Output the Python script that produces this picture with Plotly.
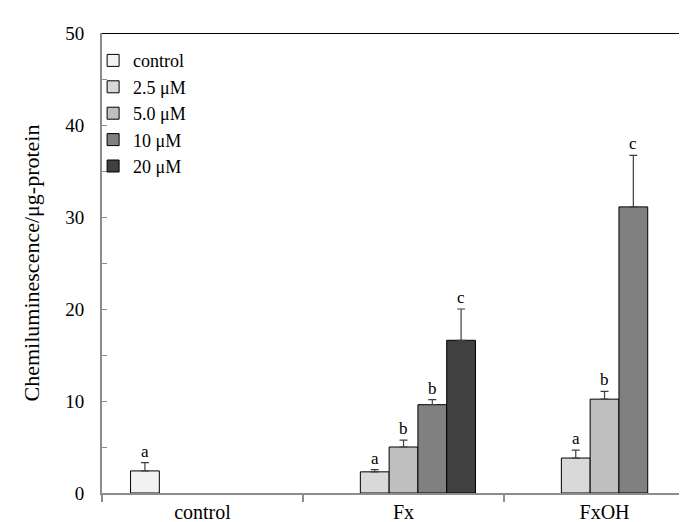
import plotly.graph_objects as go

categories = ["control", "Fx", "FxOH"]
series_names = ["control", "2.5 μM", "5.0 μM", "10 μM", "20 μM"]
series_colors = ["#F2F2F2", "#D9D9D9", "#BFBFBF", "#808080", "#404040"]

# values per series across categories (None = no bar)
val_control = [2.4, None, None]
val_2_5 = [None, 2.3, 3.8]
val_5_0 = [None, 5.0, 10.2]
val_10 = [None, 9.6, 31.1]
val_20 = [None, 16.6, None]

err_control = [0.9, 0, 0]
err_2_5 = [0, 0.25, 0.85]
err_5_0 = [0, 0.75, 0.85]
err_10 = [0, 0.55, 5.6]
err_20 = [0, 3.4, 0]

let_control = ["a", None, None]
let_2_5 = [None, "a", "a"]
let_5_0 = [None, "b", "b"]
let_10 = [None, "b", "c"]
let_20 = [None, "c", None]

values = [val_control, val_2_5, val_5_0, val_10, val_20]
errors = [err_control, err_2_5, err_5_0, err_10, err_20]
letters = [let_control, let_2_5, let_5_0, let_10, let_20]

FONT = "'Liberation Serif', 'Times New Roman', Times, serif"
BARGAP = 0.284
n = len(series_names)
slot = (1 - BARGAP) / n

fig = go.Figure()
annotations = []
for k, (name, col, v, e, L) in enumerate(zip(series_names, series_colors, values, errors, letters)):
    fig.add_trace(go.Bar(
        name=name, x=categories, y=v,
        marker=dict(color=col, line=dict(color="#000000", width=1)),
        error_y=dict(type="data", array=e, arrayminus=[0] * len(e), symmetric=False,
                     color="#404040", thickness=1.2, width=4, visible=True),
    ))
    for i, (yy, ee, lt) in enumerate(zip(v, e, L)):
        if yy is None or lt is None:
            continue
        annotations.append(dict(
            x=i + (k - (n - 1) / 2) * slot, y=yy + ee, xref="x", yref="y",
            text=lt, showarrow=False, yanchor="bottom", yshift=0,
            font=dict(family=FONT, size=17, color="#000000"),
        ))

fig.update_layout(
    width=687, height=522,
    margin=dict(l=94, r=0, t=25, b=37),
    paper_bgcolor="white", plot_bgcolor="white",
    barmode="group", bargap=BARGAP, bargroupgap=0,
    font=dict(family=FONT, size=18, color="#000000"),
    showlegend=True,
    legend=dict(x=-0.015, y=0.98, xanchor="left", yanchor="top",
                bgcolor="rgba(0,0,0,0)", font=dict(family=FONT, size=18),
                itemwidth=30, tracegroupgap=0),
    annotations=annotations,
    shapes=[dict(type="line", xref="paper", yref="y", x0=0, x1=1, y0=50, y1=50,
                 line=dict(color="#000000", width=2))],
)

fig.update_xaxes(
    type="category", range=[-0.5, 2.45],
    showline=True, linecolor="#8C8C8C", linewidth=2,
    ticks="outside", tickson="boundaries", ticklen=7, tickcolor="#8C8C8C", tickwidth=1.5,
    tickfont=dict(family=FONT, size=20), showgrid=False, zeroline=False,
)
fig.update_yaxes(
    range=[0, 50], tickvals=[0, 10, 20, 30, 40, 50],
    showline=True, linecolor="#8C8C8C", linewidth=2,
    ticks="inside", ticklen=5, tickcolor="#8C8C8C", tickwidth=1,
    minor=dict(dtick=5, ticks="inside", ticklen=5, tickcolor="#8C8C8C", tickwidth=1),
    tickfont=dict(family=FONT, size=19), showgrid=False, zeroline=False,
    ticklabelstandoff=12,
    title=dict(text="Chemiluminescence/μg-protein", font=dict(family=FONT, size=22), standoff=20),
)

fig.write_html("out.html")
